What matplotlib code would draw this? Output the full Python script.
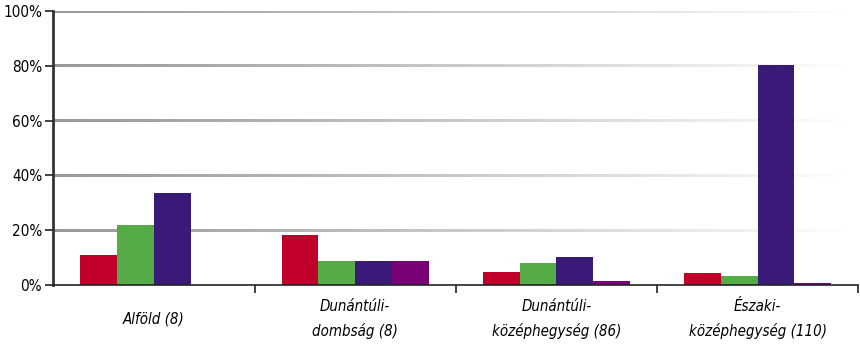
import numpy as np
import matplotlib.pyplot as plt

plt.rcParams['font.family'] = ['DejaVu Sans']
plt.rcParams['font.stretch'] = 'condensed'

regions = ['Alföld (8)', 'Dunántúli-\ndombság (8)', 'Dunántúli-\nközéphegység (86)',
           'Északi-\nközéphegység (110)']
s1 = [11.0, 18.2, 4.7, 4.4]
s2 = [21.9, 8.8, 8.0, 3.3]
s3 = [33.7, 8.8, 10.2, 80.3]
s4 = [0.0, 8.8, 1.5, 0.7]
series = [s1, s2, s3, s4]
colors = ['#C0002A', '#55AB45', '#3A1A78', '#7A0078']

fig = plt.figure(figsize=(8.6, 3.48), dpi=100)
ax = fig.add_axes([0.062, 0.181, 0.936, 0.787])

# szürke, jobbra kifakuló rácsvonalak (színátmenet képként)
grad = 0.6 + 0.4 * np.linspace(0, 1, 300) ** 1.1
grad = np.tile(grad, (2, 1))
for y in [20, 40, 60, 80, 100]:
    ax.imshow(grad, cmap='gray', vmin=0, vmax=1, aspect='auto',
              extent=[-0.5, 3.5, y - 0.5, y + 0.55], zorder=0, interpolation='bilinear')

x = np.arange(len(regions))
w = 0.183
for i, vals in enumerate(series):
    ax.bar(x + (i - 1.5) * w, vals, w, color=colors[i], zorder=2)

ax.set_xlim(-0.5, 3.5)
ax.set_ylim(0, 100)
ax.set_yticks([0, 20, 40, 60, 80, 100])
ax.set_yticklabels(['0%', '20%', '40%', '60%', '80%', '100%'], fontsize=11)
ax.set_xticks([0.5, 1.5, 2.5, 3.5])
ax.set_xticklabels([])
ax.tick_params(axis='y', length=6, width=1.2, pad=2, color='#222222')
ax.tick_params(axis='x', length=6, width=1.2, color='#222222')

for xi, lab in zip(x, regions):
    y0 = -0.095 if '\n' not in lab else -0.05
    ax.text(xi, y0, lab, transform=ax.get_xaxis_transform(),
            ha='center', va='top', fontsize=10.8, style='italic', linespacing=1.7)

for side in ['top', 'right']:
    ax.spines[side].set_visible(False)
ax.spines['left'].set_linewidth(2)
ax.spines['left'].set_color('#333333')
ax.spines['bottom'].set_linewidth(1.2)
ax.spines['bottom'].set_color('#222222')

fig.savefig('out.png', dpi=100)
